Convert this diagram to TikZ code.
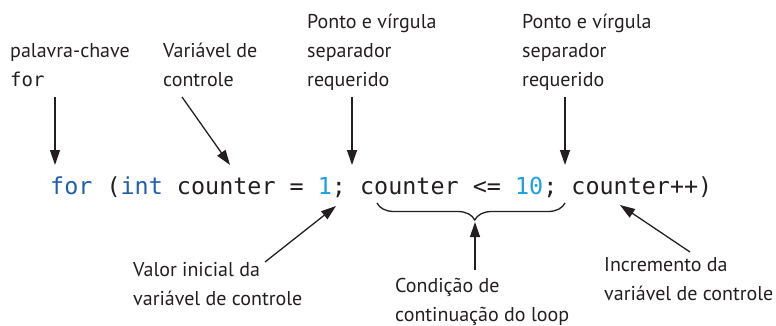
\documentclass[tikz,border=0pt]{standalone}
\usepackage{fontspec}
\setmainfont{PT Sans}
\newfontfamily\codefont{DejaVu Sans Mono}
\usetikzlibrary{arrows.meta,decorations.pathreplacing}
\definecolor{ink}{HTML}{231F20}
\definecolor{kw}{HTML}{1F5FAE}
\definecolor{num}{HTML}{1BA1E2}
\tikzset{
  lbl/.style={anchor=base west,inner sep=0pt,align=left,text=ink,
    font=\fontsize{20}{29}\selectfont},
  code/.style={anchor=base west,inner sep=0pt,text=ink,
    font=\codefont\fontsize{23.4}{28}\selectfont},
  arr/.style={draw=ink,line width=1.3pt,-{Triangle[length=15pt,width=10pt]}},
  bracestyle/.style={draw=ink,line width=1.3pt,
    decorate,decoration={brace,mirror,amplitude=17pt,aspect=0.52}}
}
\begin{document}
\begin{tikzpicture}[x=1pt,y=-1pt]
\useasboundingbox (0,0) rectangle (776,326);
% labels (anchor = baseline of last line)
\node[lbl] (kwlbl) at (10,87) {palavra-chave\\{\codefont\fontsize{19}{29}\selectfont for}};
\node[lbl] (varlbl) at (163,87) {Variável de\\controle};
\node[lbl] (semi1) at (307,87) {Ponto e vírgula\\separador\\requerido};
\node[lbl] (semi2) at (522,87) {Ponto e vírgula\\separador\\requerido};
\node[lbl] (initlbl) at (133,305) {Valor inicial da\\variável de controle};
\node[lbl] (condlbl) at (395,321) {Condição de\\continuação do loop};
\node[lbl] (inclbl) at (604,300) {Incremento da\\variável de controle};
% code line
\node[code] (codeline) at (50,194) {{\color{kw}for} ({\color{kw}int} counter = {\color{num}1}; counter <= {\color{num}10}; counter++)};
% connector ends
\coordinate (a1s) at (55,97);  \coordinate (a1e) at (55,165);
\coordinate (a2s) at (182,97); \coordinate (a2e) at (230,165);
\coordinate (a3s) at (352,97); \coordinate (a3e) at (352,165);
\coordinate (a4s) at (565,97); \coordinate (a4e) at (565,165);
\coordinate (a5s) at (265,262); \coordinate (a5e) at (336,206);
\coordinate (a6s) at (475,270); \coordinate (a6e) at (475,222);
\coordinate (a7s) at (690,252); \coordinate (a7e) at (620,205);
\coordinate (bl) at (377,203); \coordinate (br) at (565,203);
% connectors
\draw[arr] (a1s) -- (a1e);
\draw[arr] (a2s) -- (a2e);
\draw[arr] (a3s) -- (a3e);
\draw[arr] (a4s) -- (a4e);
\draw[arr] (a5s) -- (a5e);
\draw[arr] (a6s) -- (a6e);
\draw[arr] (a7s) -- (a7e);
\draw[bracestyle] (bl) -- (br);
\end{tikzpicture}
\end{document}
